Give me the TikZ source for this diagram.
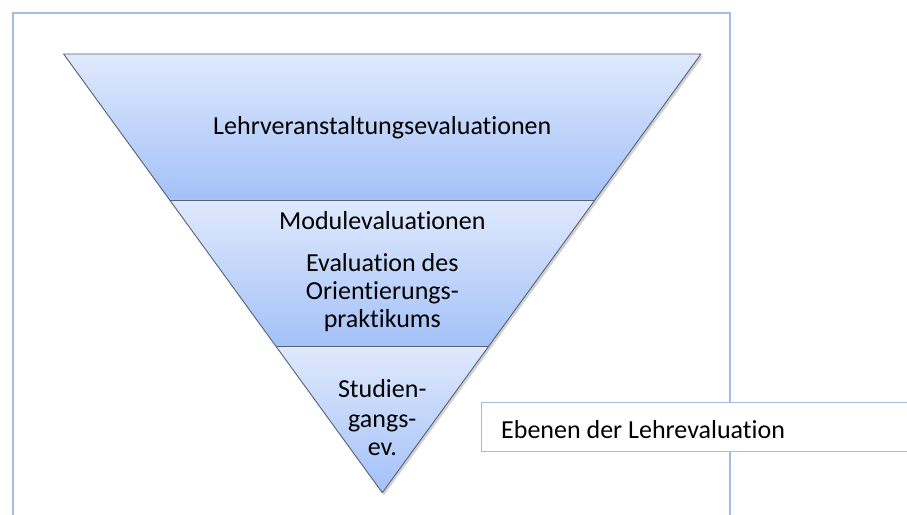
\documentclass[tikz,border=0pt]{standalone}
\usepackage{fontspec}
\setmainfont[Ligatures=NoCommon]{Carlito}
\definecolor{framec}{HTML}{A3BDE0}
\definecolor{bandtop}{HTML}{DFE9FC}
\definecolor{bandbot}{HTML}{A3C1F8}
\definecolor{edgec}{HTML}{5A6070}
\tikzset{
  band/.style={top color=bandtop, bottom color=bandbot, draw=none},
  edge/.style={draw=edgec, line width=0.9pt, line join=round},
  lbl/.style={anchor=base, inner sep=0pt, font=\fontsize{26}{29}\selectfont},
}
\begin{document}
\begin{tikzpicture}[x=1pt,y=1pt]
\useasboundingbox (0,0) rectangle (907,514);
% outer frame
\draw[framec, line width=1.5pt] (13,-10) -- (13,501) -- (730,501) -- (730,-10);
% shadow
\fill[black, opacity=0.18] (65.6,457.5) -- (703,457.5) -- (384,18.8) -- cycle;
% bands
\coordinate (tl) at (63.6,460);
\coordinate (tr) at (701,460);
\coordinate (apex) at (382.3,21.3);
\coordinate (m1l) at (169.9,314);
\coordinate (m1r) at (595.2,314);
\coordinate (m2l) at (276.1,167.7);
\coordinate (m2r) at (488.6,167.7);
\shade[band] (tl) -- (tr) -- (m1r) -- (m1l) -- cycle;
\shade[band] (m1l) -- (m1r) -- (m2r) -- (m2l) -- cycle;
\shade[band] (m2l) -- (m2r) -- (apex) -- cycle;
\draw[edge] (tl) -- (tr) -- (apex) -- cycle;
\draw[edge] (m1l) -- (m1r);
\draw[edge] (m2l) -- (m2r);
% texts
\node[lbl] (t1) at (382.3,379) {Lehrveranstaltungsevaluationen};
\node[lbl] (t2) at (382.3,284) {Modulevaluationen};
\node[lbl] (t3a) at (382.3,242.3) {Evaluation des};
\node[lbl] (t3b) at (382.3,214) {Orientierungs-};
\node[lbl] (t3c) at (382.3,186) {praktikums};
\node[lbl] (t4a) at (382.3,116) {Studien-};
\node[lbl] (t4b) at (382.3,86) {gangs-};
\node[lbl] (t4c) at (382.3,59) {ev.};
% caption box
\filldraw[fill=white, draw=framec, line width=1.5pt] (481.5,111.3) rectangle (920,62.5);
\node[lbl, anchor=base west] (cap) at (501,76) {Ebenen der Lehrevaluation};
\end{tikzpicture}
\end{document}
